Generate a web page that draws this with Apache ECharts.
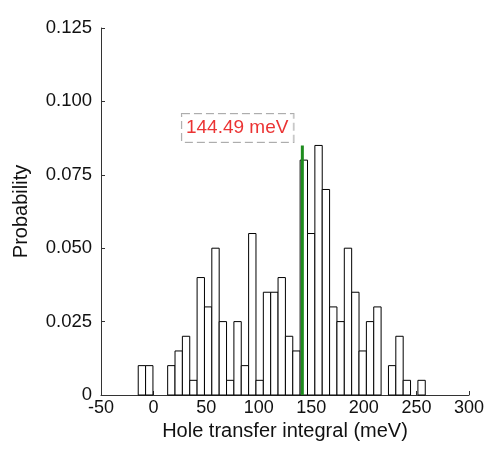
<!DOCTYPE html>
<html>
<head>
<meta charset="utf-8">
<script src="https://cdn.jsdelivr.net/npm/echarts@6/dist/echarts.min.js"></script>
<style>html,body{margin:0;padding:0;background:#fff;}#c{width:489px;height:457px;}</style>
</head>
<body>
<div id="c"></div>
<script>
// Histogram bins (meV)
const binStart = -14.6;
const binWidth = 7.0;
const probabilities = [
  0.01, 0.01, 0, 0, 0.01, 0.015, 0.02, 0.005, 0.04, 0.03,
  0.05, 0.025, 0.005, 0.025, 0.01, 0.055, 0.005, 0.035, 0.035, 0.04,
  0.02, 0.015, 0.08, 0.055, 0.085, 0.07, 0.03, 0.025, 0.05, 0.035,
  0.015, 0.025, 0.03, 0, 0.01, 0.02, 0.005, 0, 0.005
];
const xTicks = [-50, 0, 50, 100, 150, 200, 250, 300];
const yTicks = [0, 0.025, 0.05, 0.075, 0.1, 0.125];
const markerX = [141.5, 141.5];
const markerY = [0, 0.085];
const annotationText = '144.49 meV';
const annotationPos = [80, 0.0909];

const binData = probabilities.map((p, i) => [binStart + i * binWidth, binStart + (i + 1) * binWidth, p]);

const font = "'Liberation Sans', Arial, sans-serif";
const chart = echarts.init(document.getElementById('c'), null, {renderer: 'canvas'});
chart.setOption({
  animation: false,
  backgroundColor: '#fff',
  grid: {left: 101, right: 20, top: 28, bottom: 62},
  xAxis: {
    type: 'value', min: xTicks[0], max: xTicks[xTicks.length - 1], interval: 50,
    name: 'Hole transfer integral (meV)', nameLocation: 'middle', nameGap: 22,
    nameTextStyle: {fontSize: 20, color: '#111', fontFamily: font},
    axisLine: {onZero: false, lineStyle: {color: '#333', width: 1}},
    axisTick: {inside: true, length: 4, lineStyle: {color: '#333'}},
    axisLabel: {fontSize: 18, color: '#111', fontFamily: font, margin: 4},
    splitLine: {show: false}
  },
  yAxis: {
    type: 'value', min: yTicks[0], max: yTicks[yTicks.length - 1], interval: 0.025,
    name: 'Probability', nameLocation: 'middle', nameGap: 70,
    nameTextStyle: {fontSize: 20, color: '#111', fontFamily: font},
    axisLine: {show: true, onZero: false, lineStyle: {color: '#333', width: 1}},
    axisTick: {show: true, inside: true, length: 4, lineStyle: {color: '#333'}},
    axisLabel: {fontSize: 18.5, color: '#111', fontFamily: font, margin: 9,
      formatter: v => v === 0 ? '0' : v.toFixed(3)},
    splitLine: {show: false}
  },
  series: [
    {
      type: 'custom',
      data: binData,
      encode: {x: [0, 1], y: 2},
      renderItem: function (params, api) {
        const y = api.value(2);
        if (!y) return null;
        const p0 = api.coord([api.value(0), 0]);
        const p1 = api.coord([api.value(1), y]);
        return {
          type: 'rect',
          shape: {x: p0[0], y: p1[1], width: p1[0] - p0[0], height: p0[1] - p1[1]},
          style: {fill: '#fff', stroke: '#000', lineWidth: 1}
        };
      },
      z: 2
    },
    {
      type: 'line',
      data: markerX.map((x, i) => [x, markerY[i]]),
      symbol: 'none',
      lineStyle: {color: '#1e8c1e', width: 3},
      z: 3
    },
    {
      type: 'scatter',
      data: [annotationPos],
      symbolSize: 0,
      label: {
        show: true, position: 'inside', formatter: annotationText,
        color: '#e60000', fontSize: 19, fontFamily: font,
        borderColor: '#999', borderWidth: 1, borderType: 'dashed',
        padding: [5, 5, 4, 4], backgroundColor: '#fff'
      },
      z: 4
    }
  ]
});
</script>
</body>
</html>
